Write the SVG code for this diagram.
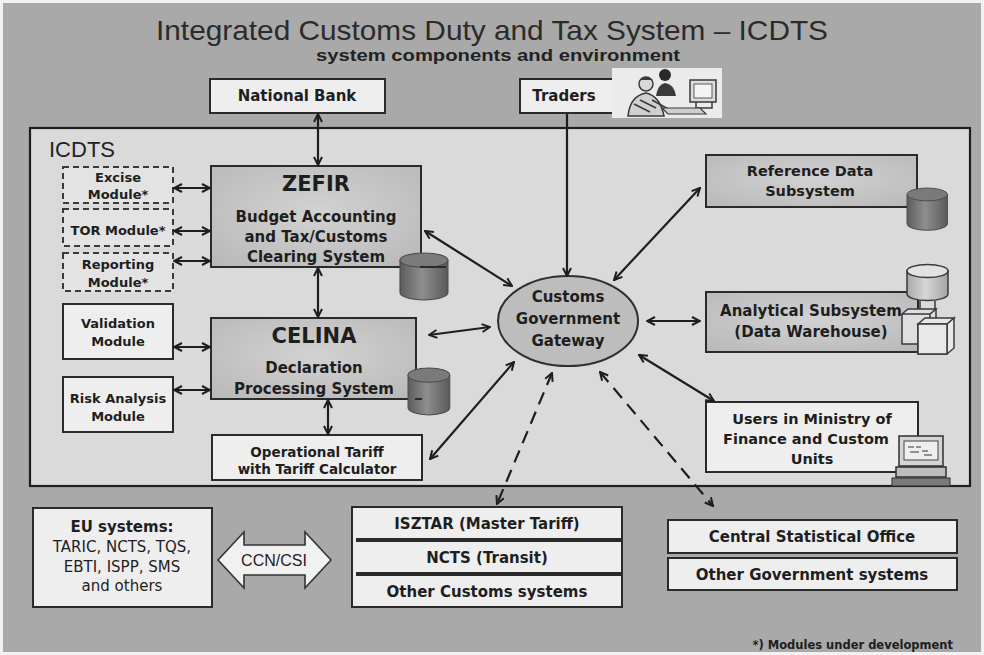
<svg xmlns="http://www.w3.org/2000/svg" width="984" height="655" viewBox="0 0 984 655">
  <style>
    .title { font-family: "Liberation Sans", Arial, sans-serif; fill: #2b2b2b; text-anchor: middle; }
    .sub { font-family: "Liberation Sans", Arial, sans-serif; font-weight: bold; fill: #222; text-anchor: middle; }
    .b { font-family: "DejaVu Sans", Verdana, sans-serif; font-weight: bold; fill: #1e1e1e; text-anchor: middle; }
    .r { font-family: "DejaVu Sans", Verdana, sans-serif; fill: #1e1e1e; text-anchor: middle; }
    .box { fill: #eeeeee; stroke: #2a2a2a; stroke-width: 2; }
    .dash { fill: #e3e3e3; stroke: #3a3a3a; stroke-width: 2; stroke-dasharray: 6 4; }
    .sys { fill: url(#sysFill); stroke: #2a2a2a; stroke-width: 2; }
    .link { fill: none; stroke: #1e1e1e; stroke-width: 2.2; }
    .dl { fill: none; stroke: #1e1e1e; stroke-width: 2.2; stroke-dasharray: 13 8; }
    .icon { fill: none; stroke: #3a3a3a; stroke-width: 1.5; }
  </style>
  <defs>
    <marker id="ah" viewBox="0 0 10 10" refX="9" refY="5" markerWidth="10" markerHeight="10" markerUnits="userSpaceOnUse" orient="auto-start-reverse">
      <path d="M1,1 L9,5 L1,9" fill="none" stroke="#1e1e1e" stroke-width="2"/>
    </marker>
    <radialGradient id="sysFill" cx="0.5" cy="0.45" r="0.7">
      <stop offset="0" stop-color="#d2d2d2"/>
      <stop offset="1" stop-color="#b9b9b9"/>
    </radialGradient>
    <linearGradient id="cylDark" x1="0" y1="0" x2="1" y2="0">
      <stop offset="0" stop-color="#5c5c5c"/>
      <stop offset="0.45" stop-color="#8e8e8e"/>
      <stop offset="1" stop-color="#5a5a5a"/>
    </linearGradient>
    <linearGradient id="cylLight" x1="0" y1="0" x2="1" y2="0">
      <stop offset="0" stop-color="#a9a9a9"/>
      <stop offset="0.45" stop-color="#d6d6d6"/>
      <stop offset="1" stop-color="#a4a4a4"/>
    </linearGradient>
    <!-- database drum, 44 wide, 46 tall -->
    <g id="drum">
      <path d="M0,7 V39 A22,7 0 0 0 44,39 V7 Z" fill="url(#cylDark)" stroke="#4a4a4a" stroke-width="1"/>
      <ellipse cx="22" cy="7" rx="22" ry="7" fill="#7a7a7a" stroke="#4a4a4a" stroke-width="1"/>
    </g>
  </defs>

  <!-- page background -->
  <rect x="0" y="0" width="984" height="655" fill="#f2f2f2"/>
  <rect x="3" y="3" width="978" height="649" fill="#a9a9a9"/>

  <!-- headings -->
  <text class="title" x="492" y="40" font-size="28" textLength="672" lengthAdjust="spacingAndGlyphs">Integrated Customs Duty and Tax System – ICDTS</text>
  <text class="sub" x="498" y="61" font-size="16" textLength="364" lengthAdjust="spacingAndGlyphs">system components and environment</text>

  <!-- external partners -->
  <g id="national-bank">
    <rect class="box" x="210" y="79" width="175" height="34"/>
    <text class="b" x="297" y="101" font-size="15">National Bank</text>
  </g>
  <g id="traders">
    <rect class="box" x="520" y="79" width="122" height="34"/>
    <text class="b" x="564" y="101" font-size="15">Traders</text>
    <!-- clip-art: two people at a computer -->
    <rect x="612" y="68" width="110" height="50" fill="#ebebeb"/>
    <rect x="690" y="80" width="26" height="22" fill="#dcdcdc" stroke="#3a3a3a" stroke-width="1.5"/>
    <rect x="694" y="84" width="18" height="14" fill="#f4f4f4" stroke="#5a5a5a" stroke-width="1"/>
    <path d="M696,102 L696,108 L712,108 L712,102" class="icon"/>
    <circle cx="665" cy="75" r="6" fill="#2a2a2a"/>
    <path d="M656,96 Q658,84 665,83 Q674,84 676,96 Z" fill="#3a3a3a"/>
    <circle cx="646" cy="84" r="7" fill="#d8d8d8" stroke="#3a3a3a" stroke-width="1.5"/>
    <path d="M640,80 Q646,74 653,80" fill="#3a3a3a"/>
    <path d="M628,116 Q630,96 646,93 Q660,96 664,116 Z" fill="#d0d0d0" stroke="#3a3a3a" stroke-width="1.5"/>
    <path d="M634,104 L650,112 M640,100 L656,108 M652,100 L670,110" class="icon"/>
    <path d="M662,108 L700,108 L706,114 L668,114 Z" fill="#cfcfcf" stroke="#3a3a3a" stroke-width="1.2"/>
  </g>

  <!-- ICDTS system boundary -->
  <g id="icdts">
    <rect x="30" y="128" width="940" height="358" fill="#dadada" stroke="#1e1e1e" stroke-width="2.2"/>
    <text x="49" y="157" font-size="22" font-family="Liberation Sans, Arial, sans-serif" fill="#222">ICDTS</text>
  </g>

  <!-- modules under development -->
  <g id="excise-module">
    <rect class="dash" x="63" y="167" width="110" height="36"/>
    <text class="b" x="118" y="182" font-size="13">Excise</text>
    <text class="b" x="118" y="199" font-size="13">Module*</text>
  </g>
  <g id="tor-module">
    <rect class="dash" x="63" y="209" width="110" height="37"/>
    <text class="b" x="118" y="235" font-size="13">TOR Module*</text>
  </g>
  <g id="reporting-module">
    <rect class="dash" x="63" y="253" width="110" height="38"/>
    <text class="b" x="118" y="269" font-size="13">Reporting</text>
    <text class="b" x="118" y="287" font-size="13">Module*</text>
  </g>

  <!-- CELINA side modules -->
  <g id="validation-module">
    <rect class="box" x="63" y="304" width="110" height="55"/>
    <text class="b" x="118" y="328" font-size="13">Validation</text>
    <text class="b" x="118" y="346" font-size="13">Module</text>
  </g>
  <g id="risk-module">
    <rect class="box" x="63" y="377" width="110" height="55"/>
    <text class="b" x="118" y="403" font-size="13">Risk Analysis</text>
    <text class="b" x="118" y="421" font-size="13">Module</text>
  </g>

  <!-- core systems -->
  <g id="zefir">
    <rect class="sys" x="211" y="166" width="210" height="101"/>
    <text class="b" x="316" y="191" font-size="21">ZEFIR</text>
    <text class="b" x="316" y="222" font-size="15">Budget Accounting</text>
    <text class="b" x="316" y="242" font-size="15">and Tax/Customs</text>
    <text class="b" x="316" y="262" font-size="15">Clearing System</text>
    <use href="#drum" transform="translate(400,253) scale(1.09,1.02)"/>
    <line x1="420" y1="267" x2="446" y2="267" stroke="#2a2a2a" stroke-width="2"/>
  </g>
  <g id="celina">
    <rect class="sys" x="211" y="318" width="205" height="81"/>
    <text class="b" x="314" y="343" font-size="21">CELINA</text>
    <text class="b" x="314" y="373" font-size="15">Declaration</text>
    <text class="b" x="314" y="394" font-size="15">Processing System</text>
    <use href="#drum" transform="translate(408,368) scale(0.95,1.02)"/>
    <line x1="415" y1="399" x2="422" y2="399" stroke="#2a2a2a" stroke-width="2"/>
  </g>
  <g id="operational-tariff">
    <rect class="box" x="212" y="435" width="210" height="45"/>
    <text class="b" x="317" y="457" font-size="13.5">Operational Tariff</text>
    <text class="b" x="317" y="474" font-size="13.5">with Tariff Calculator</text>
  </g>

  <g id="gateway">
    <ellipse cx="568" cy="321" rx="70" ry="45" fill="#bdbdbd" stroke="#2f2f2f" stroke-width="2"/>
    <text class="b" x="568" y="302" font-size="15">Customs</text>
    <text class="b" x="568" y="324" font-size="15">Government</text>
    <text class="b" x="568" y="346" font-size="15">Gateway</text>
  </g>

  <!-- right-hand subsystems -->
  <g id="reference-data">
    <rect class="sys" x="706" y="155" width="211" height="52"/>
    <text class="b" x="810" y="176" font-size="14.5">Reference Data</text>
    <text class="b" x="810" y="196" font-size="14.5">Subsystem</text>
    <use href="#drum" transform="translate(907,188) scale(0.92,0.92)"/>
  </g>
  <g id="analytical">
    <rect class="sys" x="706" y="292" width="212" height="60"/>
    <text class="b" x="811" y="316" font-size="15">Analytical Subsystem</text>
    <text class="b" x="811" y="337" font-size="15">(Data Warehouse)</text>
    <!-- light drum above a stack of cubes -->
    <path d="M907,271 V294 A20.5,6.5 0 0 0 948,294 V271 Z" fill="url(#cylLight)" stroke="#3a3a3a" stroke-width="1.5"/>
    <ellipse cx="927.5" cy="271" rx="20.5" ry="6.5" fill="#e2e2e2" stroke="#3a3a3a" stroke-width="1.5"/>
    <path d="M920,301 V310 M935,301 V310" class="icon"/>
    <path d="M902,314 L908,309 L936,309 L930,314 Z M902,314 V344 H930 V314 M930,314 L936,309 V339 L930,344" fill="#dedede" stroke="#3a3a3a" stroke-width="1.5"/>
    <path d="M918,324 L925,318 L954,318 L947,324 Z M918,324 V354 H947 V324 M947,324 L954,318 V348 L947,354" fill="#e8e8e8" stroke="#3a3a3a" stroke-width="1.5"/>
    <rect x="918" y="324" width="29" height="30" fill="#e8e8e8" stroke="#3a3a3a" stroke-width="1.5"/>
  </g>
  <g id="users">
    <rect class="box" x="706" y="402" width="212" height="70"/>
    <text class="b" x="812" y="424" font-size="14.5">Users in Ministry of</text>
    <text class="b" x="806" y="444" font-size="14.5">Finance and Custom</text>
    <text class="b" x="812" y="464" font-size="14.5">Units</text>
    <!-- desktop computer -->
    <rect x="899" y="436" width="44" height="30" fill="#d4d4d4" stroke="#2f2f2f" stroke-width="1.5"/>
    <rect x="904" y="441" width="34" height="19" fill="#eeeeee" stroke="#444" stroke-width="1"/>
    <path d="M908,447 h6 M916,447 h5 M910,452 h9 M922,451 h6 M924,455 h8" stroke="#333" stroke-width="1.2"/>
    <rect x="896" y="467" width="50" height="10" fill="#bdbdbd" stroke="#2f2f2f" stroke-width="1.5"/>
    <rect x="892" y="478" width="58" height="8" fill="#7a7a7a" stroke="#2f2f2f" stroke-width="1"/>
  </g>

  <!-- systems outside ICDTS -->
  <g id="eu-systems">
    <rect class="box" x="33" y="508" width="179" height="99"/>
    <text class="b" x="122" y="532" font-size="15">EU systems:</text>
    <text class="r" x="122" y="552" font-size="15">TARIC, NCTS, TQS,</text>
    <text class="r" x="122" y="572" font-size="15">EBTI, ISPP, SMS</text>
    <text class="r" x="122" y="591" font-size="15">and others</text>
  </g>
  <g id="ccn-csi">
    <polygon points="218,560 244,532 244,545 305,545 305,532 331,560 305,588 305,575 244,575 244,588" fill="#f1f1f1" stroke="#333" stroke-width="1.6"/>
    <text x="274" y="566" font-size="16" font-family="Liberation Sans, Arial, sans-serif" fill="#222" text-anchor="middle">CCN/CSI</text>
  </g>
  <g id="customs-systems">
    <rect class="box" x="352" y="507" width="270" height="100"/>
    <line x1="356" y1="540" x2="622" y2="540" stroke="#2a2a2a" stroke-width="4"/>
    <line x1="356" y1="574" x2="622" y2="574" stroke="#2a2a2a" stroke-width="4"/>
    <text class="b" x="487" y="529" font-size="15">ISZTAR (Master Tariff)</text>
    <text class="b" x="487" y="563" font-size="15">NCTS (Transit)</text>
    <text class="b" x="487" y="597" font-size="15">Other Customs systems</text>
  </g>
  <g id="statistical-office">
    <rect class="box" x="668" y="520" width="289" height="33"/>
    <text class="b" x="812" y="542" font-size="15">Central Statistical Office</text>
  </g>
  <g id="other-government">
    <rect class="box" x="668" y="558" width="289" height="32"/>
    <text class="b" x="812" y="580" font-size="15">Other Government systems</text>
  </g>

  <text class="b" x="953" y="649" font-size="11.5" style="text-anchor:end">*) Modules under development</text>

  <!-- connectors -->
  <g id="connectors">
    <path class="link" d="M318,114 L318,165" marker-start="url(#ah)" marker-end="url(#ah)"/>
    <path class="link" d="M567,114 L567,276" marker-end="url(#ah)"/>
    <path class="link" d="M174,188 L210,188" marker-start="url(#ah)" marker-end="url(#ah)"/>
    <path class="link" d="M174,231 L210,231" marker-start="url(#ah)" marker-end="url(#ah)"/>
    <path class="link" d="M174,261 L210,261" marker-start="url(#ah)" marker-end="url(#ah)"/>
    <path class="link" d="M318,268 L318,317" marker-start="url(#ah)" marker-end="url(#ah)"/>
    <path class="link" d="M174,347 L210,347" marker-start="url(#ah)" marker-end="url(#ah)"/>
    <path class="link" d="M174,390 L210,390" marker-start="url(#ah)" marker-end="url(#ah)"/>
    <path class="link" d="M328,400 L328,434" marker-start="url(#ah)" marker-end="url(#ah)"/>
    <path class="link" d="M425,231 L512,286" marker-start="url(#ah)" marker-end="url(#ah)"/>
    <path class="link" d="M429,335 L490,327" marker-start="url(#ah)" marker-end="url(#ah)"/>
    <path class="link" d="M430,459 L514,362" marker-start="url(#ah)" marker-end="url(#ah)"/>
    <path class="link" d="M700,188 L614,280" marker-start="url(#ah)" marker-end="url(#ah)"/>
    <path class="link" d="M647,321 L700,321" marker-start="url(#ah)" marker-end="url(#ah)"/>
    <path class="link" d="M639,355 L714,401" marker-start="url(#ah)" marker-end="url(#ah)"/>
    <path class="dl" d="M552,373 L497,504" marker-start="url(#ah)" marker-end="url(#ah)"/>
    <path class="dl" d="M600,372 L713,506" marker-start="url(#ah)" marker-end="url(#ah)"/>
  </g>
</svg>
